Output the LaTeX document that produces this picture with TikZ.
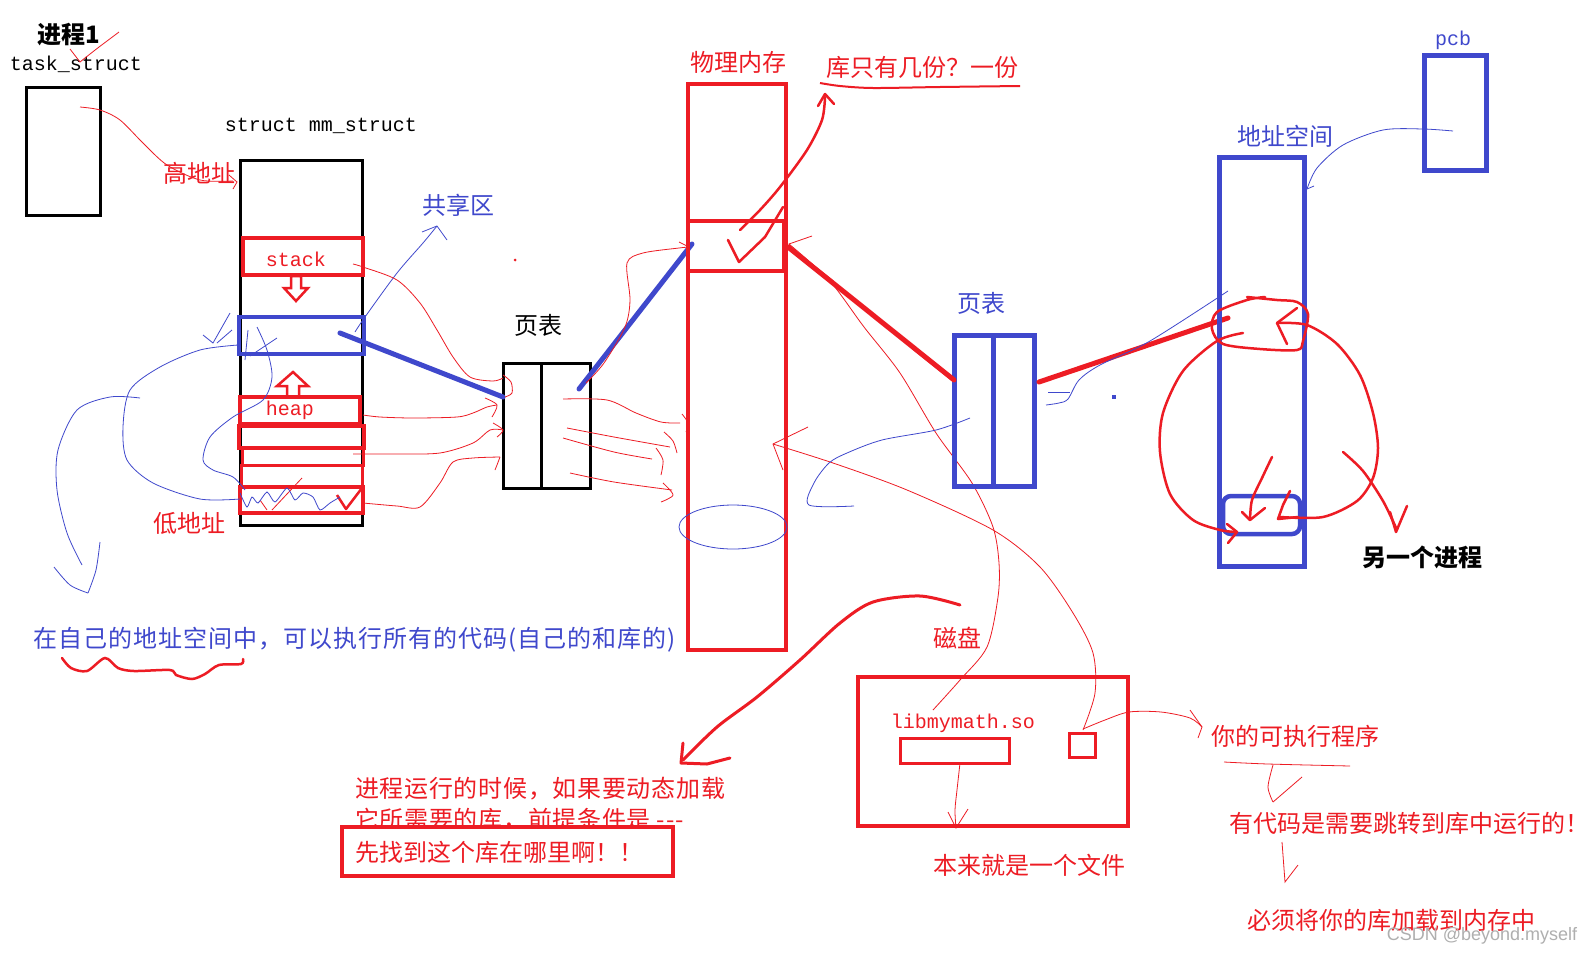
\documentclass[tikz,border=0pt]{standalone}
\usepackage{fontspec}
\newfontfamily\cjk{Noto Sans CJK SC}
\newfontfamily\cjkls[LetterSpace=4]{Noto Sans CJK SC}
\newfontfamily\cjkm[LetterSpace=3]{Noto Sans CJK SC}
\newfontfamily\mono{Liberation Mono}
\newfontfamily\arial{Liberation Sans}
\definecolor{pred}{RGB}{237,28,36}
\definecolor{pblue}{RGB}{63,72,204}
\definecolor{wm}{RGB}{175,175,175}
\tikzset{
  t/.style={inner sep=0pt, outer sep=0pt, font=\cjk\fontsize{24}{28}\selectfont},
  rt/.style={t, text=pred},
  bt/.style={t, text=pblue},
  kb/.style={t, font=\cjk\bfseries\fontsize{24}{28}\selectfont},
  mt/.style={inner sep=0pt, outer sep=0pt, font=\mono\fontsize{20}{24}\selectfont},
  rc/.style={draw, rectangle, inner sep=0pt, outer sep=0pt, anchor=north west},
  boxk/.style={rc, draw=black, line width=3pt},
  boxr/.style={rc, draw=pred, line width=3.5pt},
  boxb/.style={rc, draw=pblue, line width=5pt},
  thinr/.style={draw=pred, line width=0.8pt},
  thinb/.style={draw=pblue, line width=0.8pt},
  penr/.style={draw=pred, line width=2.5pt, line cap=round, line join=round},
  thick line/.style={line width=5pt, line cap=round},
}
\begin{document}
\begin{tikzpicture}[x=1pt,y=-1pt]
\useasboundingbox[fill=white] (0,0) rectangle (1593,956);

% ---------- process 1 ----------
\node[kb] (p1) at (69,35) {进程1};
\node[mt] (ts) at (76,64) {task\_struct};
\node[boxk, minimum width=74pt, minimum height=128pt] (task) at (26,87) {};
\draw[thinr] (70,49) -- (80,62) .. controls (95,50) .. (119,32);

\node[mt] (mmt) at (321,126) {struct mm\_struct};
\node[boxk, minimum width=122pt, minimum height=365pt] (mm) at (240,160) {};
\node[rt] (hi) at (199,173) {高地址};
\node[rt] (lo) at (189,523) {低地址};
\draw[thinr] plot[smooth] coordinates {(80,107) (100,110) (120,120) (143,143) (167,165) (200,180) (233,181)};
\draw[thinr] (229,175) -- (237,182) -- (233,189);

% regions in mm_struct
\node[boxr, minimum width=120pt, minimum height=37pt] (stack) at (243,238) {};
\node[mt, text=pred] at (296,259) {stack};
\node[boxb, line width=4.5pt, minimum width=125pt, minimum height=37pt] (shr) at (239,317) {};
\node[boxr, minimum width=120pt, minimum height=27pt] (heap) at (240,397) {};
\node[mt, text=pred] at (290,410) {heap};
\node[boxr, line width=4pt, minimum width=125pt, minimum height=22pt] (r2) at (239,426) {};
\node[boxr, line width=3pt, minimum width=121pt, minimum height=17pt] (r3) at (242,448) {};
\node[boxr, line width=3pt, minimum width=121pt, minimum height=22pt] (r4) at (241,465) {};
\node[boxr, line width=4pt, minimum width=123pt, minimum height=26pt] (r5) at (240,487) {};
\draw[pred, line width=2.5pt, line join=miter] (291,276) -- (301,276) -- (301,288) -- (308,288) -- (296,301) -- (284,288) -- (291,288) -- cycle;
\draw[pred, line width=2.5pt, line join=miter] (287,396) -- (287,386) -- (277,386) -- (293,372) -- (308,386) -- (299,386) -- (299,396);
\draw[pred, line width=2.5pt, line join=round] (337,495) -- (346,509) -- (362,488);
\draw[thinr] (272,510) -- (302,478);
\draw[thinr] (260,500) -- (267,510);

% blue scribbles left
\draw[thinb] plot[smooth] coordinates {(240,499) (200,499) (153,483) (127,460) (123,427) (130,390) (160,367) (200,350) (238,345)};
\draw[thinb] (203,335) -- (213,343) -- (230,313);
\draw[thinb] (217,343) -- (232,330);
\draw[thinb] plot[smooth] coordinates {(140,398) (110,397) (77,410) (58,450) (57,490) (67,533) (82,565)};
\draw[thinb] plot[smooth] coordinates {(54,567) (70,585) (88,593)};
\draw[thinb] plot[smooth] coordinates {(88,593) (96,570) (100,542)};
\draw[thinb] plot[smooth] coordinates {(257,327) (267,350) (272,377) (263,400) (233,417) (210,437) (203,460) (213,470) (233,477) (245,490)};
\draw[thinb] plot[smooth, tension=0.4] coordinates {(240,493) (247,507) (252,497) (258,503) (267,492) (275,502) (287,488) (295,500) (303,493) (313,497) (320,510) (330,503) (340,497)};
\draw[thinb] (277,338) -- (250,356);
\draw[thinb] (248,330) -- (245,360);

% shared region label
\node[bt] (sh) at (458,205) {共享区};
\draw[thinb] plot[smooth] coordinates {(355,332) (365,317) (397,273) (423,243) (437,226)};
\draw[thinb] (422,232) -- (437,226) -- (447,240);

% page table 1
\node[t] (pt1l) at (538,325) {页表};
\node[boxk, minimum width=87pt, minimum height=125pt] (pt1) at (503,363) {};
\draw[black, line width=3pt] (541,363) -- (541,488);
\fill[pred] (515,260) circle (1.5pt);

\draw[pblue, thick line] (340,333) -- (503,397);
\draw[pblue, thick line] (579,389) -- (692,244);

% thin red from regions to page table
\draw[thinr] plot[smooth] coordinates {(353,264) (363,267) (397,280) (420,303) (437,330) (453,357) (470,377) (493,381) (503,378)};
\draw[thinr] plot[smooth] coordinates {(503,375) (511,382) (512,393) (505,397)};
\draw[thinr] plot[smooth] coordinates {(363,415) (380,417) (413,418) (457,417) (473,413) (487,407) (497,405)};
\draw[thinr] plot[smooth] coordinates {(485,398) (497,405) (492,417)};
\draw[thinr] plot[smooth] coordinates {(353,454) (397,454) (440,453) (473,443) (490,430) (503,430)};
\draw[thinr] plot[smooth] coordinates {(493,423) (503,430) (497,437)};
\draw[thinr] plot[smooth] coordinates {(363,503) (397,506) (420,507) (440,483) (453,462) (473,458) (500,457)};
\draw[thinr] plot[smooth] coordinates {(500,457) (497,465) (495,470)};

% thin red from page table 1 to memory
\draw[thinr] plot[smooth] coordinates {(563,399) (607,400) (636,413) (661,422) (680,423)};
\draw[thinr] plot[smooth] coordinates {(682,414) (688,423) (686,432)};
\draw[thinr] plot[smooth] coordinates {(567,428) (614,437) (670,447)};
\draw[thinr] plot[smooth] coordinates {(664,432) (673,441) (677,453)};
\draw[thinr] plot[smooth] coordinates {(563,438) (614,452) (652,459)};
\draw[thinr] plot[smooth] coordinates {(656,448) (663,460) (661,475)};
\draw[thinr] plot[smooth] coordinates {(570,473) (614,482) (672,490)};
\draw[thinr] plot[smooth] coordinates {(663,483) (673,495) (661,502)};
\draw[thinr] plot[smooth] coordinates {(586,383) (604,363) (625,327) (630,300) (627,263) (643,253) (679,248) (689,247)};
\draw[thinr] (679,242) -- (689,247);

% physical memory
\node[rt] (pm) at (738,62) {物理内存};
\node[boxr, minimum width=98pt, minimum height=566pt] (mem) at (688,84) {};
\node[boxr, minimum width=96pt, minimum height=50pt] (memin) at (688,221) {};
\draw[penr] (728,240) -- (739,262) -- (765,237) -- (783,207);
\draw[penr] plot[smooth] coordinates {(740,230) (760,210) (780,187) (807,150) (822,120) (825,97)};
\draw[penr] (818,106) -- (825,94) -- (834,104);
\node[rt] (lib1) at (922,67) {库只有几份？一份};
\draw[pred, line width=2pt] plot[smooth] coordinates {(820,83) (840,86) (873,88) (940,87) (1020,86)};
\draw[thinb] (733,527) ellipse (54pt and 22pt);

% thin red curves from memory to disk
\draw[thinr] (812,236) -- (789,244) -- (800,258);
\draw[thinr] plot[smooth] coordinates {(789,244) (829,280) (864,327) (900,373) (936,433) (972,483) (993,527) (999,563) (998,597) (987,647) (960,680) (933,710)};
\draw[thinr] (808,427) -- (773,444) -- (783,470);
\draw[thinr] plot[smooth] coordinates {(773,444) (833,463) (907,490) (993,530) (1040,567) (1073,613) (1093,653) (1095,693) (1083,730)};

% page table 2
\node[bt] (pt2l) at (981,303) {页表};
\node[boxb, minimum width=80pt, minimum height=151pt] (pt2) at (954,335) {};
\draw[pblue, line width=5pt] (993,335) -- (993,486);
\draw[pred, thick line] (788,247) -- (954,380);
\draw[pred, thick line] (1039,382) -- (1228,318);
\fill[pblue] (1112,395) rectangle (1116,399);
\draw[thinb] plot[smooth] coordinates {(970,418) (936,430) (882,440) (847,453) (829,463) (814,483) (809,505) (854,506)};
\draw[thinb] plot[smooth] coordinates {(1046,405) (1059,403) (1068,399) (1079,380) (1100,365) (1150,341) (1228,291)};
\draw[thinb] (1048,392) -- (1070,392);

% address space
\node[bt] (asl) at (1285,136) {地址空间};
\node[boxb, minimum width=85pt, minimum height=409pt] (as) at (1219,157) {};
\node[rc, draw=pblue, line width=4.5pt, rounded corners=8pt, minimum width=77pt, minimum height=38pt] (asin) at (1223,496) {};
\node[mt, text=pblue] (pcbl) at (1453,40) {pcb};
\node[boxb, minimum width=62pt, minimum height=115pt] (pcb) at (1424,55) {};
\draw[thinb] plot[smooth] coordinates {(1453,131) (1423,129) (1383,130) (1343,145) (1317,168) (1307,189)};
\draw[thinb] (1307,189) -- (1314,186);

\draw[penr] plot[smooth] coordinates {(1247,297) (1277,300) (1297,302) (1308,314) (1303,341) (1297,350) (1260,349) (1223,344) (1212,329) (1217,312) (1247,300) (1265,297)};
\draw[penr] (1297,308) -- (1277,323) -- (1287,344);
\draw[penr] plot[smooth] coordinates {(1277,323) (1307,325) (1337,344) (1360,375) (1373,413) (1378,448) (1373,478) (1357,501) (1323,517) (1280,517)};
\draw[penr] plot[smooth] coordinates {(1243,333) (1217,341) (1183,371) (1163,413) (1160,452) (1170,494) (1193,520) (1220,530) (1237,532)};
\draw[penr] (1227,524) -- (1237,532) -- (1228,543);
\draw[penr] plot[smooth] coordinates {(1272,457) (1262,478) (1252,500) (1250,520)};
\draw[penr] (1242,512) -- (1250,520) -- (1265,508);
\draw[penr] (1290,491) -- (1283,505) -- (1278,519) -- (1298,517);
\draw[penr] plot[smooth] coordinates {(1343,452) (1363,471) (1383,501) (1397,530)};
\draw[penr] (1390,512) -- (1396,532) -- (1407,506);
\node[kb] (other) at (1422,557) {另一个进程};

% bottom-left text
\node[bt, font=\cjkls\fontsize{24}{28}\selectfont, anchor=west] (own) at (34,640) {在自己的地址空间中，可以执行所有的代码(自己的和库的)};
\draw[pred, line width=2.5pt, line cap=round] plot[smooth] coordinates {(62,658) (71,668) (87,671) (105,658) (118,668) (134,671) (170,670) (176,675) (192,679) (205,674) (219,665) (241,664) (243,659)};

% disk
\node[rt] (dk) at (957,638) {磁盘};
\node[boxr, minimum width=270pt, minimum height=149pt] (disk) at (858,677) {};
\node[mt, text=pred] (so) at (963,723) {libmymath.so};
\node[boxr, line width=3pt, minimum width=109pt, minimum height=25pt] (lib) at (900,738) {};
\node[boxr, line width=3pt, minimum width=26pt, minimum height=24pt] (sq) at (1069,733) {};
\draw[thinr] plot[smooth] coordinates {(960,763) (957,790) (955,810) (956,828)};
\draw[thinr] (948,812) -- (956,828) -- (968,809);
\node[rt, anchor=west] (file) at (933,865) {本来就是一个文件};

\draw[thinr] plot[smooth] coordinates {(1083,729) (1105,720) (1129,712) (1161,712) (1190,718) (1202,727)};
\draw[thinr] (1190,710) -- (1202,727) -- (1198,738);
\node[rt, anchor=west] (exe) at (1211,736) {你的可执行程序};
\draw[thinr] plot[smooth] coordinates {(1224,762) (1268,764) (1350,766)};
\draw[thinr] plot[smooth] coordinates {(1273,765) (1268,787) (1273,802)};
\draw[thinr] (1273,802) -- (1302,777);
\node[rt, anchor=west] (jmp) at (1229,823) {有代码是需要跳转到库中运行的！};
\draw[thinr] (1282,842) -- (1285,882) -- (1298,865);
\node[rt, anchor=west] (load) at (1247,920) {必须将你的库加载到内存中};
\node[inner sep=0pt, text=wm, font=\arial\fontsize{18}{20}\selectfont] (wmk) at (1482,936) {CSDN @beyond.myself};

% big arrow to bottom text
\draw[pred, line width=3pt, line cap=round] plot[smooth] coordinates {(960,605) (920,596) (873,602) (840,623) (800,660) (757,697) (717,727) (683,760)};
\draw[pred, line width=3pt, line cap=round, line join=round] (683,743) -- (681,763) -- (707,764) -- (730,758);

\node[rt, font=\cjkm\fontsize{24}{28}\selectfont, anchor=west] (run1) at (355,789) {进程运行的时候，如果要动态加载};
\node[rt, font=\cjkm\fontsize{24}{28}\selectfont, anchor=west] (run2) at (355,820) {它所需要的库，前提条件是 ---};
\node[rc, draw=pred, fill=white, line width=4.5pt, minimum width=331pt, minimum height=49pt] (find) at (342,827) {};
\node[rt, anchor=west] (findt) at (355,852) {先找到这个库在哪里啊！！};
\end{tikzpicture}
\end{document}
